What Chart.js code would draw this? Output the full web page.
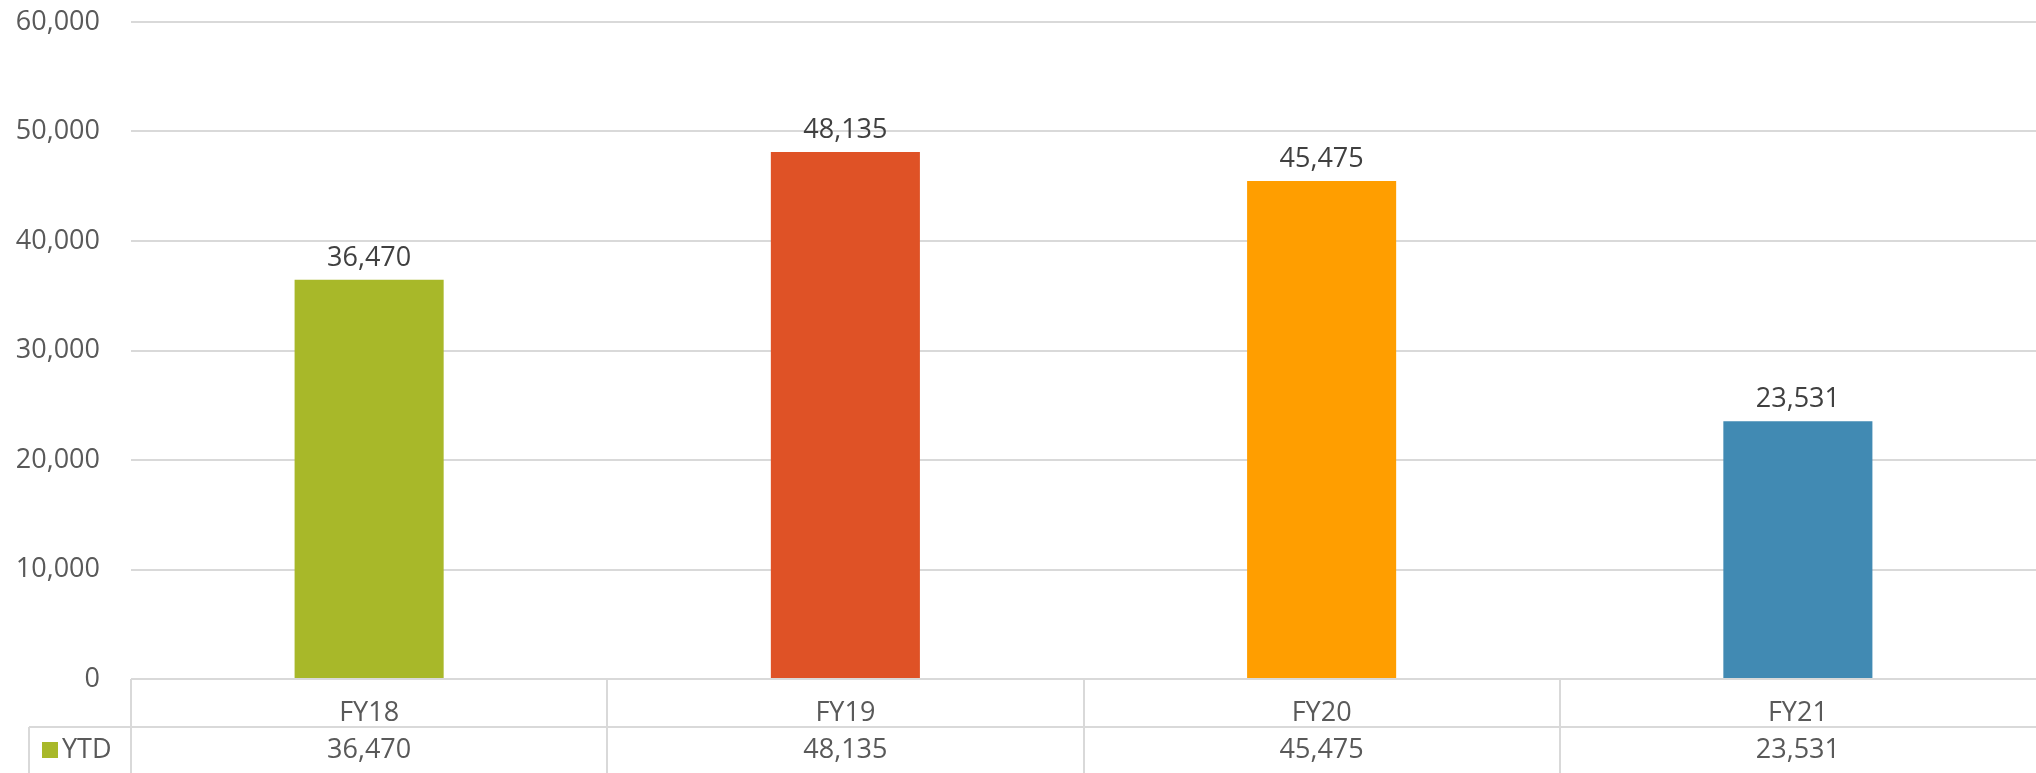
<!DOCTYPE html>
<html>
<head>
<meta charset="utf-8">
<script src="https://cdn.jsdelivr.net/npm/chart.js@4"></script>
<style>
  html, body { margin: 0; padding: 0; background: #fff; }
  #wrap { width: 2036px; height: 773px; position: relative; }
</style>
</head>
<body>
<div id="wrap"><canvas id="ytdChart"></canvas></div>
<script>
const categories = ["FY18", "FY19", "FY20", "FY21"];
const ytdValues = [36470, 48135, 45475, 23531];
const barColors = ["#A8B829", "#DF5226", "#FF9E00", "#418AB3"];
const seriesName = "YTD";

const FONT = "'Open Sans', sans-serif";
const GRID = "#d9d9d9";
const fmt = (v) => v.toLocaleString("en-US");

// labels above bars + data table under the x axis
const tablePlugin = {
  id: "tablePlugin",
  afterDraw(chart) {
    const { ctx, chartArea } = chart;
    const x = chart.scales.x;
    const meta = chart.getDatasetMeta(0);
    const rowTop = chartArea.bottom;
    const rowMid = rowTop + 48;
    const bottom = chart.height;
    const catW = (chartArea.right - chartArea.left) / categories.length;

    ctx.save();
    // bar value labels
    ctx.fillStyle = "#404040";
    ctx.font = "27px " + FONT;
    ctx.textAlign = "center";
    ctx.textBaseline = "alphabetic";
    meta.data.forEach((bar, i) => {
      ctx.fillText(fmt(ytdValues[i]), bar.x, bar.y - 14);
    });

    // table lines
    ctx.strokeStyle = GRID;
    ctx.lineWidth = 2;
    ctx.beginPath();
    ctx.moveTo(chartArea.left, rowTop);
    ctx.lineTo(chartArea.right, rowTop);
    ctx.moveTo(29, rowMid);
    ctx.lineTo(chartArea.right, rowMid);
    ctx.moveTo(29, rowMid);
    ctx.lineTo(29, bottom);
    for (let i = 0; i < categories.length; i++) {
      const lx = Math.round(chartArea.left + i * catW);
      ctx.moveTo(lx, rowTop);
      ctx.lineTo(lx, bottom);
    }
    ctx.stroke();

    // values row
    ctx.fillStyle = "#595959";
    ctx.textBaseline = "middle";
    ytdValues.forEach((v, i) => {
      ctx.fillText(fmt(v), x.getPixelForValue(i), rowMid + 23);
    });

    // legend key
    ctx.fillStyle = barColors[0];
    ctx.fillRect(42, rowMid + 15, 16, 16);
    ctx.fillStyle = "#595959";
    ctx.textAlign = "left";
    ctx.fillText(seriesName, 62, rowMid + 23);
    ctx.restore();
  }
};

new Chart(document.getElementById("ytdChart"), {
  type: "bar",
  data: {
    labels: categories,
    datasets: [
      {
        label: seriesName,
        data: ytdValues,
        backgroundColor: barColors,
        barPercentage: 0.313,
        categoryPercentage: 1.0,
      },
    ],
  },
  options: {
    responsive: true,
    maintainAspectRatio: false,
    animation: false,
    layout: { padding: { top: 22, left: 0, right: 0, bottom: 0 } },
    scales: {
      x: {
        grid: { display: false },
        border: { display: false },
        ticks: {
          color: "#595959",
          font: { family: FONT, size: 27 },
          padding: 10,
        },
        afterFit(scale) {
          scale.height = 94;
        },
      },
      y: {
        min: 0,
        max: 60000,
        grid: { color: GRID, lineWidth: 2, drawTicks: false },
        border: { display: false },
        ticks: {
          stepSize: 10000,
          color: "#595959",
          font: { family: FONT, size: 27 },
          padding: 31,
          callback: (v) => fmt(v),
        },
        afterFit(scale) {
          scale.width = 131;
          scale.paddingTop = 0;
          scale.paddingBottom = 0;
        },
      },
    },
    plugins: {
      legend: { display: false },
      tooltip: { enabled: false },
      title: { display: false },
    },
  },
  plugins: [tablePlugin],
});
</script>
</body>
</html>
